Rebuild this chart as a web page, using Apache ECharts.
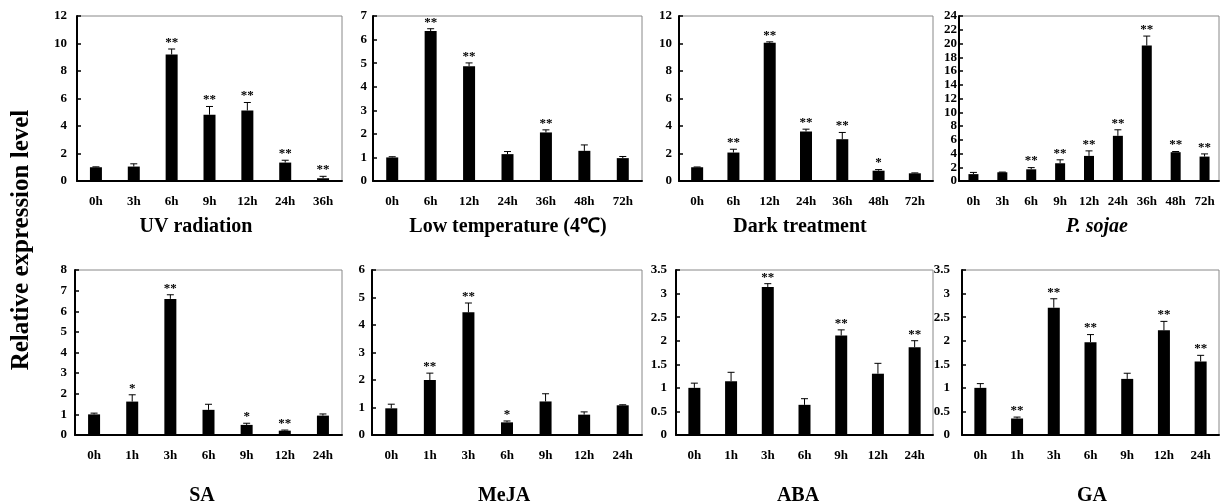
<!DOCTYPE html>
<html>
<head>
<meta charset="utf-8">
<script src="https://cdn.jsdelivr.net/npm/echarts@6/dist/echarts.min.js"></script>
<style>
html, body { margin: 0; background: #fff; }
#main { width: 1221px; height: 502px; }
</style>
</head>
<body>
<div id="main"></div>
<script>
// UV radiation
var uvHours = ['0h', '3h', '6h', '9h', '12h', '24h', '36h'];
var uvMean = [1.0, 1.05, 9.2, 4.82, 5.13, 1.34, 0.2];
var uvErr = [0.03, 0.2, 0.4, 0.6, 0.58, 0.17, 0.14];
var uvStars = ['', '', '**', '**', '**', '**', '**'];

// Low temperature
var coldHours = ['0h', '6h', '12h', '24h', '36h', '48h', '72h'];
var coldMean = [1.0, 6.36, 4.87, 1.14, 2.06, 1.28, 0.97];
var coldErr = [0.03, 0.1, 0.14, 0.11, 0.11, 0.25, 0.07];
var coldStars = ['', '**', '**', '', '**', '', ''];

// Dark treatment
var darkHours = ['0h', '6h', '12h', '24h', '36h', '48h', '72h'];
var darkMean = [1.0, 2.07, 10.05, 3.6, 3.04, 0.75, 0.56];
var darkErr = [0.02, 0.24, 0.07, 0.17, 0.49, 0.08, 0.03];
var darkStars = ['', '**', '**', '**', '**', '*', ''];

// P. sojae
var psHours = ['0h', '3h', '6h', '9h', '12h', '24h', '36h', '48h', '72h'];
var psMean = [1.0, 1.27, 1.7, 2.58, 3.65, 6.57, 19.7, 4.19, 3.55];
var psErr = [0.25, 0.03, 0.25, 0.5, 0.73, 0.88, 1.38, 0.1, 0.39];
var psStars = ['', '', '**', '**', '**', '**', '**', '**', '**'];

// SA
var saHours = ['0h', '1h', '3h', '6h', '9h', '12h', '24h'];
var saMean = [1.0, 1.62, 6.6, 1.22, 0.49, 0.21, 0.94];
var saErr = [0.06, 0.33, 0.2, 0.27, 0.08, 0.03, 0.08];
var saStars = ['', '*', '**', '', '*', '**', ''];

// MeJA
var mejaHours = ['0h', '1h', '3h', '6h', '9h', '12h', '24h'];
var mejaMean = [0.97, 2.0, 4.46, 0.46, 1.22, 0.74, 1.08];
var mejaErr = [0.15, 0.25, 0.34, 0.05, 0.28, 0.1, 0.02];
var mejaStars = ['', '**', '**', '*', '', '', ''];

// ABA
var abaHours = ['0h', '1h', '3h', '6h', '9h', '12h', '24h'];
var abaMean = [1.0, 1.14, 3.14, 0.64, 2.11, 1.3, 1.86];
var abaErr = [0.1, 0.19, 0.07, 0.13, 0.12, 0.22, 0.14];
var abaStars = ['', '', '**', '', '**', '', '**'];

// GA
var gaHours = ['0h', '1h', '3h', '6h', '9h', '12h', '24h'];
var gaMean = [1.0, 0.35, 2.7, 1.97, 1.19, 2.22, 1.56];
var gaErr = [0.09, 0.03, 0.19, 0.16, 0.12, 0.19, 0.13];
var gaStars = ['', '**', '**', '**', '', '**', '**'];

var titles = ['UV radiation', 'Low temperature (4℃)', 'Dark treatment', 'P. sojae', 'SA', 'MeJA', 'ABA', 'GA'];
var yMax = [12, 7, 12, 24, 8, 6, 3.5, 3.5];
var yStep = [2, 1, 2, 2, 1, 1, 0.5, 0.5];

var panels = [
    { hours: uvHours, mean: uvMean, err: uvErr, stars: uvStars },
    { hours: coldHours, mean: coldMean, err: coldErr, stars: coldStars },
    { hours: darkHours, mean: darkMean, err: darkErr, stars: darkStars },
    { hours: psHours, mean: psMean, err: psErr, stars: psStars },
    { hours: saHours, mean: saMean, err: saErr, stars: saStars },
    { hours: mejaHours, mean: mejaMean, err: mejaErr, stars: mejaStars },
    { hours: abaHours, mean: abaMean, err: abaErr, stars: abaStars },
    { hours: gaHours, mean: gaMean, err: gaErr, stars: gaStars }
];

// layout of the eight plot boxes
var boxLeft = [77, 373, 679, 959, 75, 372, 676, 962];
var boxWidth = [265, 269, 254, 260, 267, 270, 257, 257];
var boxTop = [16, 16, 16, 16, 270, 270, 270, 270];
var labelGap = [10, 6, 7, 2, 8, 7, 9, 12];
var titleX = [191, 503, 795, 1092, 197, 499, 793, 1087];
var titleY = [212, 212, 212, 212, 481, 481, 481, 481];

var FONT = '"Liberation Serif", "Times New Roman", serif';

function errorBars(stars) {
    return function (params, api) {
        var x = api.value(0), y = api.value(1), e = api.value(2);
        var base = api.coord([x, y]);
        var top = api.coord([x, y + e]);
        var kids = [];
        if (e > 0) {
            kids.push({ type: 'line', shape: { x1: base[0], y1: base[1], x2: top[0], y2: top[1] },
                style: { stroke: '#000', lineWidth: 1 } });
            kids.push({ type: 'line', shape: { x1: top[0] - 3.5, y1: top[1], x2: top[0] + 3.5, y2: top[1] },
                style: { stroke: '#000', lineWidth: 1 } });
        }
        var s = stars[params.dataIndex];
        if (s) {
            kids.push({ type: 'text', x: top[0], y: top[1],
                style: { text: s, align: 'center', verticalAlign: 'bottom', textAlign: 'center', textVerticalAlign: 'bottom',
                    font: 'bold 13px ' + FONT, fill: '#000' } });
        }
        return { type: 'group', children: kids };
    };
}

var grid = [], xAxis = [], yAxis = [], series = [], title = [];
panels.forEach(function (p, i) {
    grid.push({ left: boxLeft[i], top: boxTop[i], width: boxWidth[i], height: 165,
        show: true, borderColor: '#888', borderWidth: 1 });
    xAxis.push({
        type: 'category', gridIndex: i, data: p.hours, boundaryGap: true,
        axisLine: { lineStyle: { color: '#000', width: 2 } },
        axisTick: { inside: true, length: 5, lineStyle: { color: '#000', width: 1.5 } },
        axisLabel: { color: '#000', fontFamily: FONT, fontWeight: 'bold', fontSize: 13, margin: 14 },
        splitLine: { show: false }
    });
    yAxis.push({
        type: 'value', gridIndex: i, min: 0, max: yMax[i], interval: yStep[i],
        axisLine: { show: true, lineStyle: { color: '#000', width: 2 } },
        axisTick: { show: true, inside: true, length: 4, lineStyle: { color: '#000', width: 1.5 } },
        axisLabel: { color: '#000', fontFamily: FONT, fontWeight: 'bold', fontSize: 13, margin: labelGap[i] },
        splitLine: { show: false }
    });
    series.push({
        type: 'bar', xAxisIndex: i, yAxisIndex: i, data: p.mean,
        barWidth: i === 3 ? 10 : 12, itemStyle: { color: '#000' }, silent: true
    });
    series.push({
        type: 'custom', xAxisIndex: i, yAxisIndex: i, z: 5, silent: true,
        renderItem: errorBars(p.stars),
        encode: { x: 0, y: 1 },
        data: p.mean.map(function (v, k) { return [k, v, p.err[k]]; })
    });
    title.push({
        text: titles[i], left: titleX[i], top: titleY[i], textAlign: 'center',
        textStyle: { color: '#000', fontFamily: FONT, fontWeight: 'bold', fontSize: 20,
            fontStyle: i === 3 ? 'italic' : 'normal' }
    });
});

var option = {
    animation: false,
    backgroundColor: '#fff',
    title: title,
    grid: grid,
    xAxis: xAxis,
    yAxis: yAxis,
    series: series,
    graphic: [{
        type: 'text', x: 22, y: 240, rotation: Math.PI / 2,
        style: { text: 'Relative expression level', align: 'center', verticalAlign: 'middle',
            textAlign: 'center', textVerticalAlign: 'middle',
            font: 'bold 25px ' + FONT, fill: '#000' }
    }]
};

var chart = echarts.init(document.getElementById('main'));
chart.setOption(option);
window.onresize = chart.resize;
</script>
</body>
</html>
